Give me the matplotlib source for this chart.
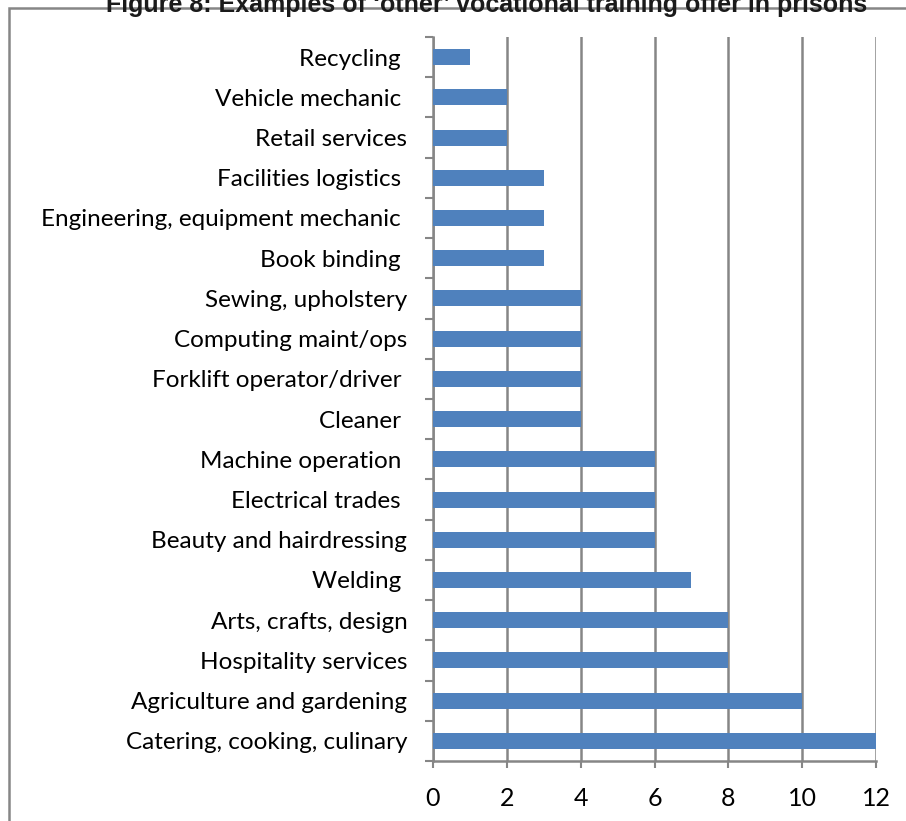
import matplotlib
matplotlib.use('Agg')
from matplotlib import pyplot as plt
from matplotlib.patches import Rectangle
import numpy as np

# training categories, bottom to top
categories = ['Catering, cooking, culinary', 'Agriculture and gardening',
              'Hospitality services', 'Arts, crafts, design', 'Welding ',
              'Beauty and hairdressing', 'Electrical trades ',
              'Machine operation ', 'Cleaner ', 'Forklift operator/driver ',
              'Computing maint/ops', 'Sewing, upholstery', 'Book binding ',
              'Engineering, equipment mechanic ', 'Facilities logistics ',
              'Retail services', 'Vehicle mechanic ', 'Recycling ']
counts = [12, 10, 8, 8, 7, 6, 6, 6, 4, 4, 4, 4, 3, 3, 3, 2, 2, 1]
xticks = [0, 2, 4, 6, 8, 10, 12]

title = "Figure 8: Examples of \u2018other\u2019 vocational training offer in prisons"

bar_color = '#4F81BD'
grid_color = '#868686'
font = ['Lato', 'DejaVu Sans']

W, H = 906, 821
fig = plt.figure(figsize=(W / 100, H / 100), dpi=100)
fig.patch.set_facecolor('white')

# plot area in pixel terms
left, right, top, bottom = 433, 876, 37, 761
ax = fig.add_axes([left / W, 1 - bottom / H, (right - left) / W, (bottom - top) / H])

y = np.arange(len(categories))
ax.barh(y, counts, height=0.4, color=bar_color, zorder=3)

ax.set_xlim(0, 12)
ax.set_ylim(-0.5, len(categories) - 0.5)
ax.set_xticks(xticks)
ax.set_xticklabels([str(v) for v in xticks], fontsize=18, family=font)
ax.set_yticks(y)
ax.set_yticklabels(categories, fontsize=17.5, family=font)
ax.tick_params(axis='y', length=0, pad=18.5)
ax.tick_params(axis='x', length=5, width=1.5, color=grid_color, pad=14)

# category separators on the value axis
ax.set_yticks(np.arange(-0.5, len(categories), 1), minor=True)
ax.tick_params(axis='y', which='minor', length=6, width=1.5, color=grid_color)

ax.xaxis.grid(True, color=grid_color, lw=1.8, zorder=0)
ax.set_axisbelow(True)
for s in ['top', 'right']:
    ax.spines[s].set_visible(False)
for s in ['left', 'bottom']:
    ax.spines[s].set_color(grid_color)
    ax.spines[s].set_linewidth(1.8)

# outer chart frame
fig.patches.append(Rectangle((8.5 / W, -0.05), 1.0, 1 - 8 / H + 0.05,
                             transform=fig.transFigure, fill=False,
                             edgecolor=grid_color, lw=1.8))

fig.text(487 / W, 1 - 12 / H, title, ha='center', va='baseline',
         fontsize=18, fontweight='bold', family=['Liberation Sans', 'DejaVu Sans'],
         color='#1a1a1a')

fig.savefig('out.png', dpi=100)
